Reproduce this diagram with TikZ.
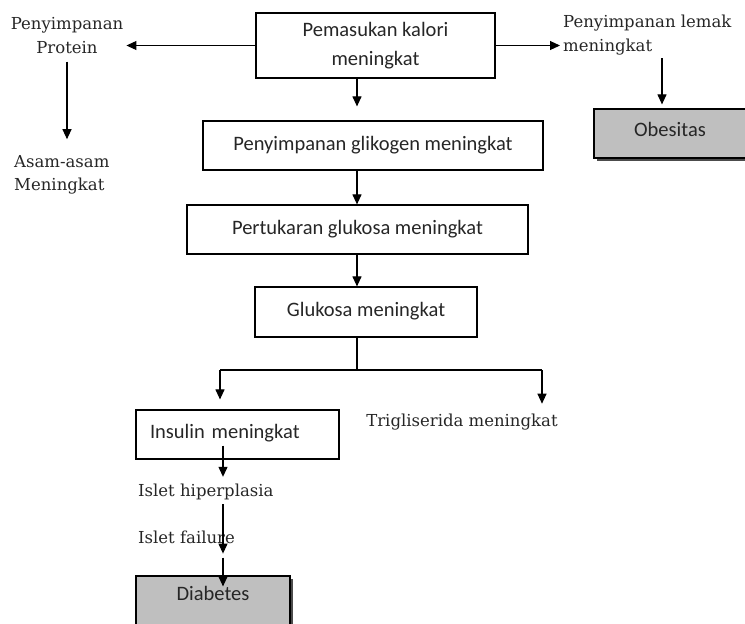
\documentclass[tikz,border=0pt]{standalone}
\usepackage{fontspec}
\setmainfont{Carlito}
\newfontfamily\serifteks{DejaVu Serif}
\usetikzlibrary{arrows.meta,positioning,shadows}

\begin{document}
\begin{tikzpicture}[x=1pt,y=-1pt,>={Triangle[width=9pt,length=10pt]},
  blok/.style={draw,line width=1.2pt,align=center,text=black!85,
    font=\fontsize{20.5}{28}\selectfont},
  hasil/.style={blok,fill=black!25,
    drop shadow={shadow xshift=3pt,shadow yshift=-3pt,fill=black!70,opacity=1}},
  teks/.style={inner sep=0pt,text=black!85,font=\serifteks\fontsize{16.5}{23.5}\selectfont},
  panah/.style={->,line width=1.1pt}]
  \path[use as bounding box] (0,0) rectangle (745,624);
  \clip (0,0) rectangle (745,624);

  % kotak utama
  \node[blok,minimum width=239pt,minimum height=65pt] (kalori)     at (375.5,45.5) {Pemasukan kalori\\[1pt]meningkat};
  \node[blok,minimum width=340pt,minimum height=49pt] (glikogen)   at (373,145.5)  {Penyimpanan glikogen meningkat};
  \node[blok,minimum width=341pt,minimum height=49pt] (pertukaran) at (357.5,229.5) {Pertukaran glukosa meningkat};
  \node[blok,minimum width=222pt,minimum height=50pt,text depth=6pt] (glukosa) at (366,312) {Glukosa meningkat};
  \node[blok,minimum height=49pt,inner xsep=14pt,text width=175pt,align=left,text depth=6pt] (insulin) at (237.5,434.5) {Insulin meningkat};
  \node[hasil,minimum width=152pt,minimum height=49pt,text depth=9pt]  (obesitas) at (670,133.5) {Obesitas};
  \node[hasil,minimum width=154pt,minimum height=49pt,text depth=14pt] (diabetes) at (213,600.5) {Diabetes};

  % teks bebas
  \node[teks,align=center]           (protein) at (67,35.5) {Penyimpanan\\Protein};
  \node[teks,align=left,anchor=west] (asam)    at (14,175)  {Asam-asam\\Meningkat};
  \node[teks,align=left,anchor=west] (lemak)   at (563,35)  {Penyimpanan lemak\\meningkat};
  \node[teks]                        (trigli)  at (462,422) {Trigliserida meningkat};
  \node[teks,anchor=west]            (hiper)   at (138,492) {Islet hiperplasia};
  \node[teks,anchor=west]            (failure) at (138,537) {Islet failure};

  \coordinate (spine) at (357,0);
  \coordinate (fork)  at (357,370);
  \coordinate (forkL) at (220,370);
  \coordinate (forkR) at (542,370);
  \coordinate (drop)  at (223,0);

  \path[panah] (kalori.west) edge[shorten >=3pt] (kalori.west -| protein.east)
       (kalori.east)  edge[shorten >=3pt] (kalori.east -| lemak.west)
       ([yshift=-8pt]protein.south) edge[shorten >=16pt] (asam.north -| protein.south)
       ([xshift=-8pt]obesitas.north |- lemak.south) edge[shorten <=3pt,shorten >=4pt] ([xshift=-8pt]obesitas.north)
       (kalori.south -| spine)     edge[shorten >=14pt] (glikogen.north -| spine)
       (glikogen.south -| spine)   edge                 (pertukaran.north -| spine)
       (pertukaran.south -| spine) edge                 (glukosa.north -| spine)
       (forkL) edge[shorten >=10pt] (insulin.north -| forkL)
       (forkR) edge[shorten >=10pt] (trigli.north -| forkR)
       ([yshift=14pt]insulin.south -| drop) edge[shorten >=7pt] (hiper.north -| drop)
       (hiper.south -| drop) edge[shorten <=4pt,shorten >=-10pt] (failure.south -| drop)
       ([yshift=-14pt]failure.south -| drop) edge[shorten >=-11pt] (diabetes.north -| drop);
  \draw[line width=1.1pt] (glukosa.south -| fork) -- (fork) (forkL) -- (forkR);
\end{tikzpicture}
\end{document}
